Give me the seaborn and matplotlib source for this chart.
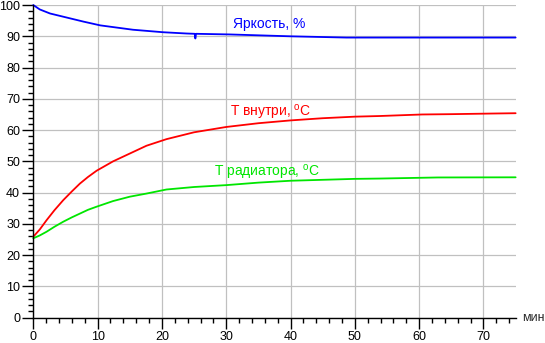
import matplotlib
matplotlib.use("Agg")
import matplotlib.pyplot as plt
import seaborn as sns
import pandas as pd
from matplotlib.ticker import MultipleLocator

# ---- data ----
t_bright = [0, 1, 2.6, 5.2, 7.8, 10.4, 15.5, 20.2, 23.8, 25.1, 25.2, 25.3, 30.5, 36.8, 40, 48.7, 60, 75]
bright = [100, 98.6, 97.3, 96.0, 94.7, 93.5, 92.1, 91.3, 90.9, 90.8, 89.3, 90.8, 90.6, 90.2, 90.0, 89.6, 89.6, 89.6]

t_inside = [0, 1, 2.07, 3.3, 4.66, 6, 7.25, 8.5, 9.84, 12.4, 15, 17.6, 20.7, 25, 30, 35, 40, 45, 50, 53.8, 60.5, 65, 71.4, 75]
inside = [25.9, 28.2, 31.2, 34.4, 37.6, 40.4, 42.9, 45.0, 47.0, 50.0, 52.5, 55.0, 57.1, 59.3, 61.0, 62.2, 63.1, 63.8, 64.3, 64.5, 65.0, 65.1, 65.3, 65.4]

t_rad = [0, 1, 2.07, 3.3, 4.66, 6, 7.25, 8.5, 9.84, 12.4, 15, 17.6, 20.7, 25, 30, 35, 40, 45, 50, 53.8, 62.9, 75]
rad = [25.4, 26.3, 27.5, 29.1, 30.7, 32.1, 33.3, 34.5, 35.5, 37.3, 38.7, 39.7, 41.0, 41.8, 42.4, 43.2, 43.8, 44.1, 44.4, 44.5, 44.85, 44.9]

x_ticks = [0, 10, 20, 30, 40, 50, 60, 70]
y_ticks = [0, 10, 20, 30, 40, 50, 60, 70, 80, 90, 100]

label_bright = "Яркость, %"
label_inside = r"Т внутри, $^\mathrm{o}$С"
label_rad = r"Т радиатора, $^\mathrm{o}$С"
x_unit = "мин"

sns.set_style("white")
plt.rcParams["font.family"] = ["Liberation Sans", "DejaVu Sans"]
plt.rcParams["mathtext.fontset"] = "custom"
plt.rcParams["mathtext.rm"] = "Liberation Sans"

fig = plt.figure(figsize=(5.45, 3.43), dpi=100)
ax = fig.add_axes([0.0611, 0.0738, 0.885, 0.9115])

df_b = pd.DataFrame({"t": t_bright, "v": bright})
df_i = pd.DataFrame({"t": t_inside, "v": inside})
df_r = pd.DataFrame({"t": t_rad, "v": rad})

sns.lineplot(data=df_b, x="t", y="v", ax=ax, color="#0000ff", lw=1.3, clip_on=False)
sns.lineplot(data=df_i, x="t", y="v", ax=ax, color="#ff0000", lw=1.3, clip_on=False)
sns.lineplot(data=df_r, x="t", y="v", ax=ax, color="#00e600", lw=1.3, clip_on=False)

ax.set_xlim(0, 75)
ax.set_ylim(0, 100)
ax.set_xticks(x_ticks)
ax.set_yticks(y_ticks)
ax.xaxis.set_minor_locator(MultipleLocator(2))
ax.yaxis.set_minor_locator(MultipleLocator(2))
ax.set_xlabel("")
ax.set_ylabel("")

ax.grid(True, which="major", color="#c0c0c0", lw=0.9)
ax.set_axisbelow(True)
for s in ["top", "right"]:
    ax.spines[s].set_visible(False)
for s in ["left", "bottom"]:
    ax.spines[s].set_color("black")
    ax.spines[s].set_linewidth(1.0)

ax.tick_params(axis="both", which="major", direction="out", length=8, width=1.0,
               color="black", labelsize=9, pad=1.5, labelcolor="black")
ax.tick_params(axis="both", which="minor", direction="out", length=3.8, width=1.0,
               color="black")
ax.tick_params(axis="x", which="both", bottom=True)
ax.tick_params(axis="y", which="both", left=True)

ax.text(31.0, 92.5, label_bright, color="#0000ff", fontsize=10, va="baseline", ha="left")
ax.text(30.6, 64.2, label_inside, color="#ff0000", fontsize=10, va="baseline", ha="left")
ax.text(28.1, 45.0, label_rad, color="#00e600", fontsize=10, va="baseline", ha="left")
ax.text(1.0145, 0.0, x_unit, transform=ax.transAxes, fontsize=9, va="center", ha="left")

fig.savefig("out.png", dpi=100)
